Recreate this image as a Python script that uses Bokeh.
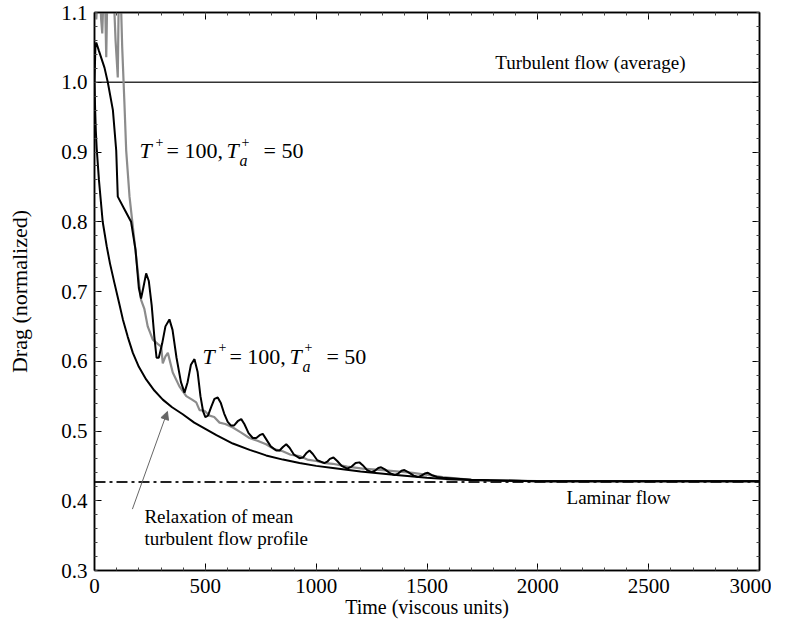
from bokeh.plotting import figure
from bokeh.models import (Range1d, LinearAxis, SingleIntervalTicker, Label, Arrow,
                          NormalHead, PrintfTickFormatter, CustomJSTickFormatter)
from bokeh.embed import file_html
from bokeh.resources import INLINE

# ---------------- data ----------------
relax_t = [0, 3, 6, 10, 20, 37, 55, 70, 90, 110, 128, 150, 173, 200, 233, 270, 308, 350,
           398, 450, 500, 550, 624, 700, 774, 850, 925, 1000, 1075, 1200, 1361, 1500,
           1587, 1782, 2000, 3000]
relax_drag = [1.0, 0.96, 0.93, 0.905, 0.86, 0.80, 0.765, 0.74, 0.712, 0.685, 0.66, 0.635,
              0.612, 0.592, 0.574, 0.558, 0.545, 0.534, 0.524, 0.512, 0.503, 0.494, 0.482,
              0.473, 0.465, 0.459, 0.454, 0.450, 0.447, 0.442, 0.437, 0.433, 0.431, 0.429,
              0.428, 0.428]

osc_t = [0, 4, 8, 20, 45, 60, 83, 98, 105, 135, 165, 185, 200, 210, 220, 233, 245, 258, 270,
         280, 290, 305, 320, 338, 352, 370, 390, 406, 420, 435, 451, 465, 478, 490, 500, 512,
         527, 541, 556, 570, 585, 601, 615, 630, 646, 662, 676, 695, 714, 730, 745, 759, 775,
         795, 820, 835, 850, 865, 880, 900, 925, 940, 955, 970, 985, 1005, 1037, 1050, 1062,
         1078, 1095, 1115, 1140, 1160, 1178, 1195, 1210, 1230, 1250, 1265, 1280, 1293, 1310,
         1335, 1355, 1370, 1385, 1398, 1415, 1440, 1460, 1475, 1490, 1504, 1520, 1545, 1571,
         1700, 2000, 3000]
osc_drag = [1.0, 1.05, 1.057, 1.045, 1.021, 1.0, 0.96, 0.902, 0.836, 0.818, 0.80, 0.76,
            0.705, 0.69, 0.705, 0.726, 0.715, 0.68, 0.635, 0.605, 0.605, 0.625, 0.65, 0.66,
            0.645, 0.605, 0.57, 0.555, 0.57, 0.595, 0.603, 0.585, 0.55, 0.528, 0.52, 0.522,
            0.535, 0.546, 0.548, 0.540, 0.525, 0.513, 0.508, 0.508, 0.514, 0.517, 0.51, 0.497,
            0.49, 0.49, 0.494, 0.496, 0.488, 0.478, 0.472, 0.472, 0.477, 0.481, 0.476, 0.466,
            0.461, 0.462, 0.468, 0.472, 0.467, 0.458, 0.454, 0.456, 0.46, 0.462, 0.457, 0.45,
            0.446, 0.449, 0.454, 0.455, 0.451, 0.444, 0.441, 0.443, 0.447, 0.448, 0.445, 0.439,
            0.437, 0.439, 0.443, 0.444, 0.441, 0.436, 0.434, 0.436, 0.439, 0.44, 0.437, 0.434,
            0.433, 0.43, 0.428, 0.428]

gray_t = [0, 8, 14, 22, 30, 35, 40, 47, 53, 58, 70, 85, 95, 105, 110, 118, 125, 135, 143,
          158, 173, 203, 210, 225, 240, 263, 285, 301, 308, 320, 331, 353, 383, 414, 440, 459,
          474, 496, 519, 540, 564, 590, 624, 660, 699, 735, 774, 810, 849, 885, 925, 960, 1000,
          1040, 1075, 1140, 1210, 1300, 1436, 1571, 1700, 2000, 3000]
gray_drag = [1.13, 1.09, 1.12, 1.15, 1.09, 1.07, 1.12, 1.13, 1.036, 1.13, 1.16, 1.14, 1.06,
             1.007, 1.14, 1.13, 1.05, 0.97, 0.902, 0.836, 0.793, 0.707, 0.688, 0.675, 0.65,
             0.631, 0.625, 0.621, 0.597, 0.607, 0.612, 0.584, 0.564, 0.55, 0.545, 0.541, 0.53,
             0.529, 0.522, 0.52, 0.512, 0.51, 0.505, 0.498, 0.49, 0.486, 0.481, 0.474, 0.471,
             0.466, 0.464, 0.459, 0.457, 0.454, 0.453, 0.449, 0.446, 0.444, 0.44, 0.434, 0.43,
             0.428, 0.428]

turb_t = [0, 3000]
turb_drag = [1.0, 1.0]
lam_t = [0, 3000]
lam_drag = [0.427, 0.427]

FONT = "Liberation Serif"

p = figure(frame_width=665, frame_height=558, x_range=Range1d(0, 3000),
           y_range=Range1d(0.3, 1.1), output_backend="svg", toolbar_location=None,
           min_border_left=94, min_border_top=12, min_border_right=12, min_border_bottom=10,
           background_fill_color="white", border_fill_color="white")
p.xgrid.visible = False
p.ygrid.visible = False
p.outline_line_color = "black"
p.outline_line_width = 1.5


def style_axis(ax, show_labels=True):
    ax.major_tick_in = 7
    ax.major_tick_out = 0
    ax.minor_tick_in = 3
    ax.minor_tick_out = 0
    ax.axis_line_color = "black"
    ax.axis_line_width = 1.5
    ax.major_tick_line_color = "black"
    ax.minor_tick_line_color = "#444444"
    ax.major_label_text_font = FONT
    ax.major_label_text_color = "black"
    ax.major_label_text_font_size = "21px"
    ax.axis_label_text_font = FONT
    ax.axis_label_text_font_style = "normal"
    ax.axis_label_text_font_size = "20px"
    ax.axis_label_text_color = "black"
    if not show_labels:
        ax.formatter = CustomJSTickFormatter(code="return ''")
        ax.major_label_standoff = 0


p.xaxis.ticker = SingleIntervalTicker(interval=500, num_minor_ticks=5)
p.yaxis.ticker = SingleIntervalTicker(interval=0.1, num_minor_ticks=5)
p.yaxis.formatter = PrintfTickFormatter(format="%.1f")
for ax in p.xaxis + p.yaxis:
    style_axis(ax)
p.xaxis.axis_label = "Time (viscous units)"
p.yaxis.axis_label = "Drag (normalized)"
p.yaxis.axis_label_text_font_size = "22px"
p.xaxis.major_label_standoff = 8
p.yaxis.major_label_standoff = 7
p.xaxis.axis_label_standoff = 0
p.yaxis.axis_label_standoff = 26

top = LinearAxis(ticker=SingleIntervalTicker(interval=500, num_minor_ticks=5))
right = LinearAxis(ticker=SingleIntervalTicker(interval=0.1, num_minor_ticks=5))
style_axis(top, False)
style_axis(right, False)
p.add_layout(top, "above")
p.add_layout(right, "right")

# lines
p.line(turb_t, turb_drag, color="#333333", line_width=1.6)
p.line(lam_t, lam_drag, color="#222222", line_width=2, line_dash="11 4 3 4")
p.line(gray_t, gray_drag, color="#8c8c8c", line_width=2.2)
p.line(relax_t, relax_drag, color="black", line_width=2)
p.line(osc_t, osc_drag, color="black", line_width=2)


def lab(x, y, text, align="left", size="19px", style="normal", xo=0, yo=0, base="middle"):
    p.add_layout(Label(x=x, y=y, text=text, text_align=align, text_baseline=base,
                       text_font=FONT, text_font_size=size, text_font_style=style,
                       text_color="black", x_offset=xo, y_offset=yo))


lab(2237, 1.029, "Turbulent flow (average)", align="center")
lab(2364, 0.404, "Laminar flow", align="center")
lab(225, 0.377, "Relaxation of mean")
lab(225, 0.346, "turbulent flow profile")


def math_label(x, y):
    parts = [("T", 0, 0, "italic", "22px"), ("+", 16, 9, "normal", "14px"),
             ("= 100,", 27, 0, "normal", "22px"), ("T", 87, 0, "italic", "22px"),
             ("+", 102, 9, "normal", "14px"), ("a", 100, -10, "italic", "16px"),
             ("= 50", 124, 0, "normal", "22px")]
    for txt, xo, yo, st, sz in parts:
        lab(x, y, txt, size=sz, style=st, xo=xo, yo=yo, base="alphabetic")


math_label(203, 0.902)
math_label(487, 0.607)

p.add_layout(Arrow(end=NormalHead(size=8, fill_color="#666666", line_color="#666666"),
                   x_start=171, y_start=0.388, x_end=329, y_end=0.528,
                   line_color="#666666", line_width=1))

open("out.html", "w").write(file_html(p, INLINE))
